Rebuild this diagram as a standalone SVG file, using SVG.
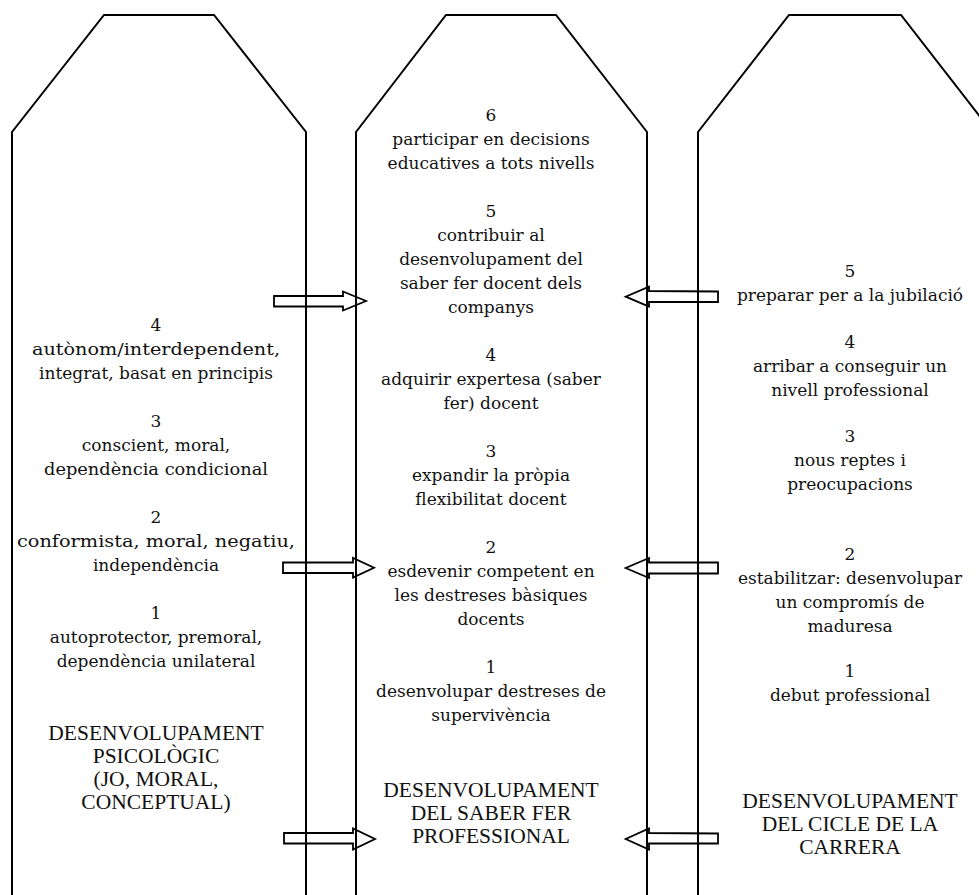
<svg xmlns="http://www.w3.org/2000/svg" width="979" height="895" viewBox="0 0 979 895">
<style>
.shape{fill:none;stroke:#000;stroke-width:2;stroke-linejoin:miter}
.arrow{fill:#fff;stroke:#000;stroke-width:1.8;stroke-linejoin:miter}
.t{font-family:"DejaVu Serif",serif;font-size:17px;fill:#111;text-anchor:middle}
.u{font-family:"Liberation Serif","Times New Roman",serif;font-size:21.5px;fill:#111;text-anchor:middle}
</style>
<rect width="979" height="895" fill="#fff"/>
<g id="connectors">
<polygon class="arrow" points="274,296 343,296 343,291.5 366,301 343,310.5 343,306.5 274,306.5"/>
<polygon class="arrow" points="283,562.5 353,562.5 353,558 374,567.7 353,577.5 353,573 283,573"/>
<polygon class="arrow" points="284,833 353,833 353,828.5 375,839 353,849.5 353,843.5 284,843.5"/>
<polygon class="arrow" points="718,291.5 649,291 649,286.7 625.7,296.7 649,306.7 649,302 718,302"/>
<polygon class="arrow" points="718,562.5 649,562.5 649,558 625.7,568 649,578 649,573.5 718,573.5"/>
<polygon class="arrow" points="718,833.5 649,833 649,828.5 625.7,839 649,849.5 649,843.5 718,843.5"/>
</g>
<g id="psicologic">
<polyline class="shape" points="12,900 12,132 104,15 214,15 306,132 306,900"/>
<text class="t" x="156" y="331">4</text>
<text class="t" x="156" y="355" textLength="248" lengthAdjust="spacingAndGlyphs">autònom/interdependent,</text>
<text class="t" x="156" y="379">integrat, basat en principis</text>
<text class="t" x="156" y="427">3</text>
<text class="t" x="156" y="451">conscient, moral,</text>
<text class="t" x="156" y="475" textLength="224" lengthAdjust="spacingAndGlyphs">dependència condicional</text>
<text class="t" x="156" y="523">2</text>
<text class="t" x="156" y="547" textLength="278" lengthAdjust="spacingAndGlyphs">conformista, moral, negatiu,</text>
<text class="t" x="156" y="571">independència</text>
<text class="t" x="156" y="619">1</text>
<text class="t" x="156" y="643">autoprotector, premoral,</text>
<text class="t" x="156" y="667">dependència unilateral</text>
<text class="u" x="156" y="740">DESENVOLUPAMENT</text>
<text class="u" x="156" y="763">PSICOLÒGIC</text>
<text class="u" x="156" y="786">(JO, MORAL,</text>
<text class="u" x="156" y="809">CONCEPTUAL)</text>
</g>
<g id="saber-fer">
<polyline class="shape" points="356,900 356,132 446,15 556,15 647,132 647,900"/>
<text class="t" x="491" y="120.5">6</text>
<text class="t" x="491" y="144.5">participar en decisions</text>
<text class="t" x="491" y="168.5">educatives a tots nivells</text>
<text class="t" x="491" y="216.5">5</text>
<text class="t" x="491" y="240.5">contribuir al</text>
<text class="t" x="491" y="264.5">desenvolupament del</text>
<text class="t" x="491" y="288.5">saber fer docent dels</text>
<text class="t" x="491" y="312.5">companys</text>
<text class="t" x="491" y="360.5">4</text>
<text class="t" x="491" y="384.5">adquirir expertesa (saber</text>
<text class="t" x="491" y="408.5">fer) docent</text>
<text class="t" x="491" y="456.5">3</text>
<text class="t" x="491" y="480.5">expandir la pròpia</text>
<text class="t" x="491" y="504.5">flexibilitat docent</text>
<text class="t" x="491" y="552.5">2</text>
<text class="t" x="491" y="576.5">esdevenir competent en</text>
<text class="t" x="491" y="600.5">les destreses bàsiques</text>
<text class="t" x="491" y="624.5">docents</text>
<text class="t" x="491" y="672.5">1</text>
<text class="t" x="491" y="696.5">desenvolupar destreses de</text>
<text class="t" x="491" y="720.5">supervivència</text>
<text class="u" x="491" y="797">DESENVOLUPAMENT</text>
<text class="u" x="491" y="820">DEL SABER FER</text>
<text class="u" x="491" y="843">PROFESSIONAL</text>
</g>
<g id="cicle-carrera">
<polyline class="shape" points="698,900 698,132 789,15 901,15 992,132 992,900"/>
<text class="t" x="850" y="277">5</text>
<text class="t" x="850" y="301">preparar per a la jubilació</text>
<text class="t" x="850" y="348">4</text>
<text class="t" x="850" y="372">arribar a conseguir un</text>
<text class="t" x="850" y="396">nivell professional</text>
<text class="t" x="850" y="442">3</text>
<text class="t" x="850" y="466">nous reptes i</text>
<text class="t" x="850" y="490">preocupacions</text>
<text class="t" x="850" y="560">2</text>
<text class="t" x="850" y="584">estabilitzar: desenvolupar</text>
<text class="t" x="850" y="608">un compromís de</text>
<text class="t" x="850" y="632">maduresa</text>
<text class="t" x="850" y="677">1</text>
<text class="t" x="850" y="701">debut professional</text>
<text class="u" x="850" y="808">DESENVOLUPAMENT</text>
<text class="u" x="850" y="831">DEL CICLE DE LA</text>
<text class="u" x="850" y="854">CARRERA</text>
</g>
</svg>
